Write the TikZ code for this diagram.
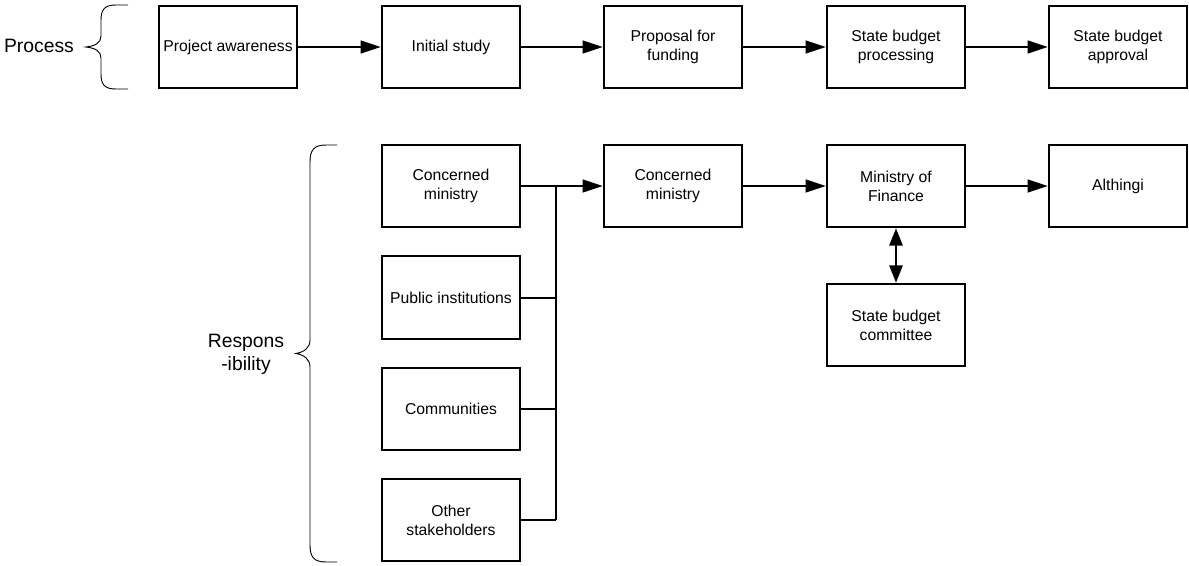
\documentclass[tikz,border=0pt]{standalone}
\usepackage{fontspec}
\setmainfont{Liberation Sans}
\usetikzlibrary{arrows.meta}
\begin{document}
\begin{tikzpicture}[x=0.75pt,y=-0.75pt,
  stepbox/.style={draw,line width=1.5pt,minimum width=104pt,minimum height=62pt,
    inner sep=2pt,align=center,font=\fontsize{11.8}{14.3}\selectfont},
  flow/.style={line width=1.5pt,-{Triangle[length=15pt,width=9.5pt]}},
  both/.style={line width=1.5pt,{Triangle[length=13pt,width=10pt]}-{Triangle[length=13pt,width=10pt]}},
  link/.style={line width=1.5pt},
  bracepath/.style={line width=0.7pt},
  sidelabel/.style={align=center,font=\fontsize{14.5}{17.3}\selectfont}]
\useasboundingbox (0,0) rectangle (1189,565);

% process row
\node[stepbox] (aware) at (228,47) {Project awareness};
\node[stepbox] (study) at (451,47) {Initial study};
\node[stepbox] (prop)  at (673,47) {Proposal for\\funding};
\node[stepbox] (proc)  at (896,47) {State budget\\processing};
\node[stepbox] (appr)  at (1118,47) {State budget\\approval};

\draw[flow] (aware) -- (study);
\draw[flow] (study) -- (prop);
\draw[flow] (prop) -- (proc);
\draw[flow] (proc) -- (appr);

% responsibility rows
\node[stepbox] (cmin)  at (451,186) {Concerned\\ministry};
\node[stepbox] (pub)   at (451,297.5) {Public institutions};
\node[stepbox] (comm)  at (451,409) {Communities};
\node[stepbox] (other) at (451,520) {Other\\stakeholders};

\node[stepbox] (cmin2) at (673,186) {Concerned\\ministry};
\node[stepbox] (mof)   at (896,186) {Ministry of\\Finance};
\node[stepbox] (alth)  at (1118,186) {Althingi};
\node[stepbox] (sbc)   at (896,325) {State budget\\committee};

% collecting bus
\coordinate (bustop) at (556,186);
\coordinate (busbot) at (556,520);
\draw[link] (bustop) -- (busbot);
\draw[link] (pub.east) -- (pub.east -| bustop);
\draw[link] (comm.east) -- (comm.east -| bustop);
\draw[link] (other.east) -- (other.east -| bustop);

\draw[flow] (cmin) -- (cmin2);
\draw[flow] (cmin2) -- (mof);
\draw[flow] (mof) -- (alth);
\draw[both] (mof) -- (sbc);

% side labels and braces
\node[sidelabel] (lproc) at (39,46) {Process};
\node[sidelabel] (lresp) at (246,354) {Respons\\-ibility};

\draw[bracepath] (128,5) -- (116,5) .. controls (105,5) and (101,9) .. (101,20)
  -- (101,36) .. controls (101,43) and (95,46) .. (86,47)
  .. controls (95,48) and (101,51) .. (101,58)
  -- (101,74) .. controls (101,85) and (105,89) .. (116,89) -- (128,89);

\draw[bracepath] (337,145) -- (326,145) .. controls (314,145) and (310,150) .. (310,162)
  -- (310,340) .. controls (310,348) and (304,352) .. (296,353.5)
  .. controls (304,355) and (310,359) .. (310,367)
  -- (310,545) .. controls (310,557) and (314,562) .. (326,562) -- (337,562);
\end{tikzpicture}
\end{document}
